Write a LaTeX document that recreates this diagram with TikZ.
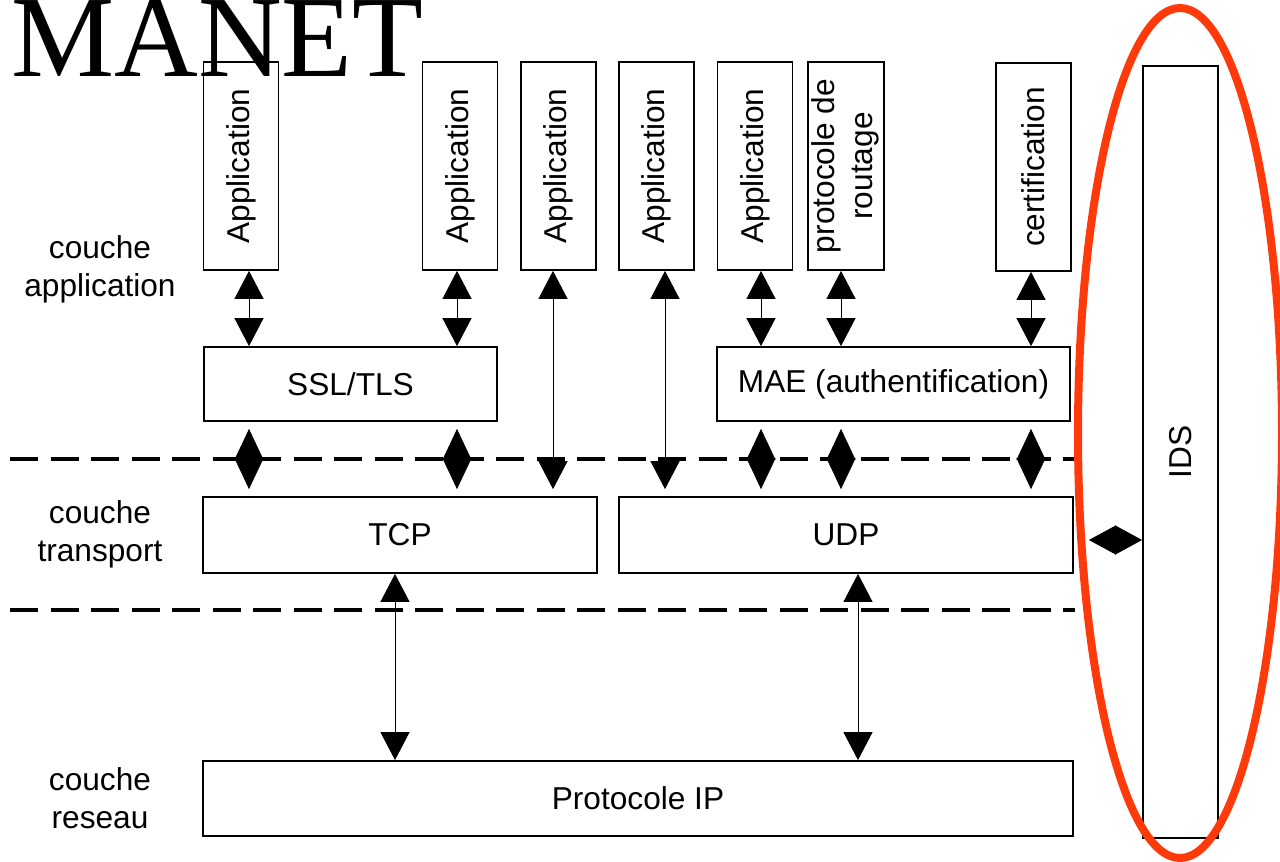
\documentclass[tikz,border=0pt]{standalone}
\usepackage{fontspec}
\setmainfont{Liberation Sans}
\newfontfamily\titlefont{Liberation Serif}
\usetikzlibrary{arrows.meta}

\begin{document}
\begin{tikzpicture}[x=0.2mm,y=-0.2mm,
  every node/.style={font=\fontsize{18}{21.5}\selectfont},
  box/.style={draw,line width=1pt,inner sep=0pt},
  appbox/.style={box,minimum width=15mm,minimum height=41.6mm},
  link/.style={line width=0.55pt,{Triangle[length=5.6mm,width=5.8mm]}-{Triangle[length=5.6mm,width=5.8mm]}},
  shortlink/.style={line width=0.55pt,shorten <=1.4mm,shorten >=1.4mm,{Triangle[length=6.2mm,width=5.8mm]}-{Triangle[length=6.2mm,width=5.8mm]}},
  layer/.style={line width=2.3pt,dash pattern=on 5.6mm off 2.5mm},
  lbl/.style={align=center}]
\useasboundingbox (0,0) rectangle (1280,861);
\definecolor{idsred}{HTML}{FF3A0A}

\node[anchor=base west,inner sep=0pt,font=\titlefont\fontsize{66}{70}\selectfont] (title) at (11,76) {MANET};

% couche application
\foreach \nom/\x in {app1/241,app2/460,app3/558.5,app4/656.5,app5/755}
  {\node[appbox] (\nom) at (\x,166) {\rotatebox{90}{Application}};}
\node[appbox] (route) at (846,166) {\rotatebox{90}{\begin{tabular}{@{}c@{}}protocole de\\routage\end{tabular}}};
\node[appbox] (cert) at (1033.5,167) {\rotatebox{90}{certification}};
\node[box,minimum width=58.6mm,minimum height=14.8mm] (ssl) at (350.5,384) {SSL/TLS};
\node[box,minimum width=70.6mm,minimum height=14.8mm] (mae) at (893.5,384) {MAE (authentification)};

% couche transport et reseau
\node[box,minimum width=78.8mm,minimum height=15.2mm] (tcp) at (400,535) {TCP};
\node[box,minimum width=90.8mm,minimum height=15.2mm] (udp) at (846,535) {UDP};
\node[box,minimum width=174mm,minimum height=15mm] (ip) at (638,798.5) {Protocole IP};
\node[box,minimum width=15mm,minimum height=154.4mm] (ids) at (1180.5,452) {\rotatebox{90}{IDS}};

\node[lbl] (lblapp) at (100,269) {couche\\application};
\node[lbl] (lbltrans) at (100,534) {couche\\transport};
\node[lbl] (lblres) at (100,798) {couche\\reseau};

\draw[layer] (10,459) -- (1075,459);
\draw[layer] (10,610) -- (1075,610);

% fleches
\foreach \c/\x in {a/249,b/457,c/553,d/665,e/761,f/841,g/1031,h/395,i/858}
  {\coordinate (col\c) at (\x,0);}
\foreach \c/\haut/\bas in {a/app1/ssl,b/app2/ssl,e/app5/mae,f/route/mae,g/cert/mae,h/tcp/ip,i/udp/ip}
  {\draw[link] (col\c |- \haut.south) -- (col\c |- \bas.north);}
\foreach \c/\haut/\bas in {a/ssl/tcp,b/ssl/tcp,e/mae/udp,f/mae/udp,g/mae/udp}
  {\draw[shortlink] (col\c |- \haut.south) -- (col\c |- \bas.north);}
\foreach \c/\haut/\bas in {c/app3/tcp,d/app4/udp}
  {\draw[link,shorten >=1.4mm] (col\c |- \haut.south) -- (col\c |- \bas.north);}
\draw[link,shorten <=3mm,arrows={Triangle[length=5.4mm,width=5.8mm]-Triangle[length=5.4mm,width=5.8mm]}]
  ([yshift=-1mm]udp.east) -- ([yshift=-1mm]udp.east -| ids.west);

\draw[idsred,line width=1.6mm] (1180,433) ellipse [x radius=102,y radius=425];
\end{tikzpicture}
\end{document}
